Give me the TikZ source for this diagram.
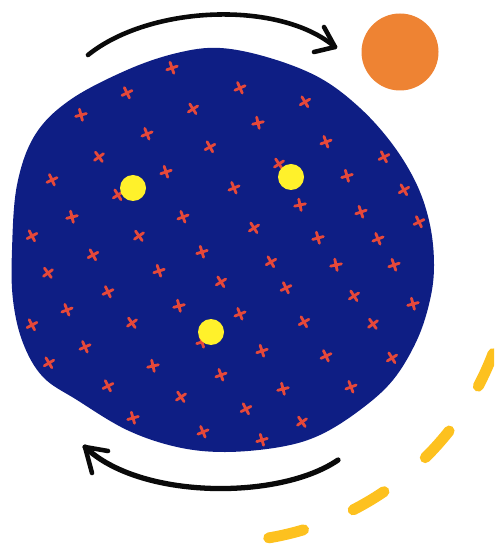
\documentclass[tikz,border=0pt]{standalone}
\usepackage{tikz}
\usetikzlibrary{arrows.meta}
\definecolor{NightBlue}{HTML}{0E1E84}
\definecolor{CrossRed}{HTML}{E5483A}
\definecolor{MoonYellow}{HTML}{FFF12B}
\definecolor{SunOrange}{HTML}{EE8333}
\definecolor{OrbitGold}{HTML}{FDC11F}
\definecolor{InkBlack}{HTML}{0A0A0A}

\begin{document}
\begin{tikzpicture}[
    x=0.02cm, y=-0.02cm,
    stroke/.style={
      draw=InkBlack,
      line width=#1,
      line cap=round,
      line join=round
    },
    orbit/.style={
      draw=OrbitGold,
      line width=6.2pt,
      line cap=round,
      dash pattern=on 20.4pt off 30.45pt
    },
    moon/.style={
      fill=MoonYellow
    },
    cross/.pic={
      \draw[CrossRed, line width=1.6pt, line cap=round] (-5.5,0) -- (5.5,0) (0,-6) -- (0,5.5);
    }
  ]

  \clip (0,0) rectangle (494,546);

  % Blob
  \fill[NightBlue] plot[smooth cycle, tension=0.6] coordinates {
    (220,48) (270,58) (320,78) (360,108) (393,145) (417,185) (430,225)
    (434,265) (430,300) (417,340) (393,380) (360,410) (320,435) (280,447)
    (225,452) (177,447) (127,430) (77,400) (43,377) (23,343) (13,300)
    (12,250) (17,185) (35,135) (70,100) (127,70) (177,53)};

  % Crosses
  \foreach \px/\py [count=\i] in {
      172/68, 127/93, 193/109, 81/115, 147/134, 210/147, 99/157, 166/172,
      52/180, 118/195, 72/217, 183/217, 32/236, 139/236, 202/252,
      240/88, 305/102, 258/123, 326/142, 384/157, 279/164, 347/176, 234/188,
      404/190, 300/205, 361/212, 419/222, 254/228, 318/238, 378/239,
      93/255, 48/273, 159/271, 108/292, 221/282, 179/306, 67/310, 32/325,
      132/323, 202/342, 85/347, 49/363, 153/366, 221/375, 108/386, 181/397,
      133/418, 203/432,
      271/262, 336/265, 394/265, 286/288, 354/296, 413/304, 240/314, 304/322,
      373/324, 262/351, 326/356, 392/358, 283/389, 351/387, 246/409, 302/422,
      262/440}
    \pic[rotate={12+mod(7*\i,25)}] at (\px,\py) {cross};

  % Moons
  \fill[moon] (133,188) circle[radius=13];
  \fill[moon] (291,177) circle[radius=13];
  \fill[moon] (211,332) circle[radius=13];

  % Sun
  \fill[SunOrange] (400,52) circle[radius=38.5];

  % Rotation arrows
  \draw[stroke=2.6pt] (88,55) .. controls (150,5) and (280,0) .. (335,47);
  \draw[stroke=2.6pt] (324,27) -- (335,47) -- (314,52);
  \draw[stroke=3pt] (338,460) .. controls (280,500) and (140,500) .. (85,447);
  \draw[stroke=2.6pt] (108,451) -- (85,447) -- (92,473);

  % Orbit
  \draw[orbit] plot[domain=80.4:0, samples=90] ({220+292*cos(\x)},{250+292*sin(\x)});

\end{tikzpicture}
\end{document}
